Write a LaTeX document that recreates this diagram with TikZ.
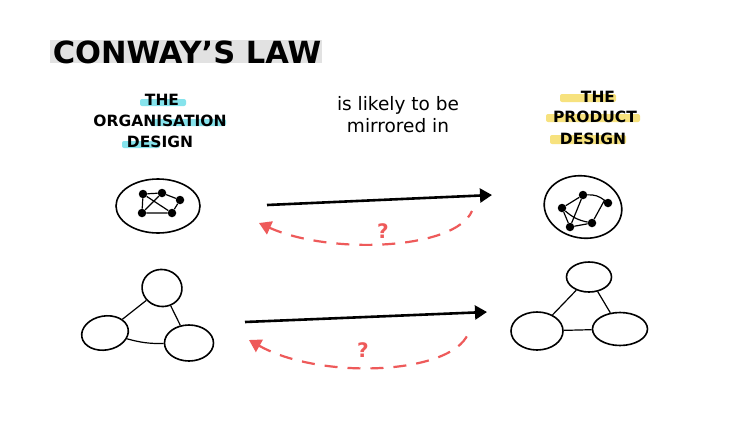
\documentclass[tikz,border=0pt]{standalone}
\usepackage{fontspec}
\setmainfont{DejaVu Sans}
\usetikzlibrary{arrows.meta,shapes.geometric}
\definecolor{hlcyan}{HTML}{86E3EC}
\definecolor{hlyellow}{HTML}{F7E27E}
\definecolor{hlgray}{HTML}{E2E2E2}
\definecolor{askred}{HTML}{EE5A5A}
\tikzset{
  dot/.style={circle,fill=black,inner sep=0pt,minimum size=8.5pt},
  blob/.style={ellipse,draw,line width=1.6pt,inner sep=0pt},
  link/.style={line width=1.2pt},
  heading/.style={font=\fontsize{15.5}{16}\selectfont\bfseries,inner sep=0pt},
  mirror/.style={line width=2.6pt,-{Triangle[length=12pt,width=14pt]}},
  ask/.style={askred,line width=2.2pt,dash pattern=on 13pt off 10pt,{Triangle[length=12pt,width=14pt]}-},
}
\begin{document}
\begin{tikzpicture}[x=1pt,y=-1pt]
            \useasboundingbox[fill=white] (0,0) rectangle (741,434);
            % title
            \fill[hlgray] (50,40) rectangle (322,63);
            \node[inner sep=0pt,font=\fontsize{30.5}{32}\selectfont\bfseries] at (187,52) (title) {CONWAY'S LAW};
            % highlights
            \fill[hlcyan,rounded corners=2pt] (140,99) rectangle (186,106);
            \fill[hlcyan,rounded corners=2pt] (150,119) rectangle (226,126);
            \fill[hlcyan,rounded corners=2pt] (122,141) rectangle (160,148);
            \fill[hlyellow,rounded corners=2pt] (560,94) rectangle (616,102);
            \fill[hlyellow,rounded corners=2pt] (546,114) rectangle (640,122);
            \fill[hlyellow,rounded corners=2pt] (550,135) rectangle (626,144);
            \node[heading] at (162,100) (orgthe) {THE};
            \node[heading] at (160,121) (orgname) {ORGANISATION};
            \node[heading] at (160,142) (orgdesign) {DESIGN};
            \node[heading] at (598,97) (prodthe) {THE};
            \node[heading] at (595,117) (prodname) {PRODUCT};
            \node[heading] at (593,139) (proddesign) {DESIGN};
            \node[heading,font=\fontsize{18.5}{22}\selectfont,align=center] at (398,115) (likely) {is likely to be\\mirrored in};
            % top left: people
            \node[blob,minimum width=84pt,minimum height=54pt] at (158,206) (orgring) {};
            \node[dot] at (143,194) (p1) {};
            \node[dot] at (162,193) (p2) {};
            \node[dot] at (180,200) (p3) {};
            \node[dot] at (142,213) (p4) {};
            \node[dot] at (172,213) (p5) {};
            \draw[link] (p1) -- (p2) -- (p3) -- (p5) -- (p4) -- (p1);
            \draw[link] (p1) -- (p5);
            \draw[link] (p2) -- (p4);
            % top right: components
            \node[blob,minimum width=78pt,minimum height=62pt,rotate=-10] at (583,207) (prodring) {};
            \node[dot] at (583,195) (c1) {};
            \node[dot] at (608,203) (c2) {};
            \node[dot] at (562,208) (c3) {};
            \node[dot] at (592,223) (c4) {};
            \node[dot] at (570,227) (c5) {};
            \draw[link] (c3) -- (c1) to[bend left=20] (c2) -- (c4) -- (c5) -- (c3);
            \draw[link] (c1) -- (c5);
            \draw[link] (c3) to[bend right=15] (c4);
            % top arrows
            \coordinate (a1) at (267,205);
            \coordinate (b1) at (492,195);
            \coordinate (r1) at (472,211);
            \coordinate (l1) at (259,223);
            \draw[mirror] (a1) -- (b1);
            \draw[ask] (l1) .. controls (330,255) and (455,250) .. (r1);
            \node[askred,font=\fontsize{20}{22}\selectfont\bfseries] at (383,231) (q1) {?};
            % bottom left: teams
            \node[blob,minimum width=40pt,minimum height=37pt,rotate=-10] at (162,288) (teama) {};
            \node[blob,minimum width=47pt,minimum height=34pt,rotate=10] at (105,333) (teamb) {};
            \node[blob,minimum width=49pt,minimum height=36pt] at (189,343) (teamc) {};
            \draw[link] (teamb) -- (teama);
            \draw[link] (teama) -- (teamc);
            \draw[link] (teamb) to[bend right=8] (teamc);
            % bottom right: modules
            \node[blob,minimum width=45pt,minimum height=30pt] at (589,277) (moda) {};
            \node[blob,minimum width=52pt,minimum height=38pt] at (537,331) (modb) {};
            \node[blob,minimum width=55pt,minimum height=33pt] at (620,329) (modc) {};
            \draw[link] (moda) -- (modb);
            \draw[link] (moda) -- (modc);
            \draw[link] (modc) -- (modb);
            % bottom arrows
            \coordinate (a2) at (245,322);
            \coordinate (b2) at (487,312);
            \coordinate (r2) at (468,334);
            \coordinate (l2) at (249,340);
            \draw[mirror] (a2) -- (b2);
            \draw[ask] (l2) .. controls (320,380) and (450,375) .. (r2);
            \node[askred,font=\fontsize{20}{22}\selectfont\bfseries] at (363,350) (q2) {?};
        \end{tikzpicture}
\end{document}
